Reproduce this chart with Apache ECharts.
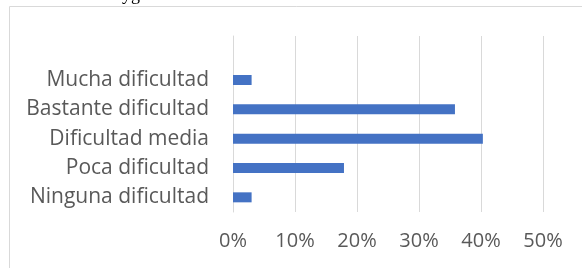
<!DOCTYPE html>
<html>
<head>
<meta charset="utf-8">
<script src="https://cdn.jsdelivr.net/npm/echarts@6/dist/echarts.min.js"></script>
<style>
  html, body { margin: 0; padding: 0; background: #fff; }
  #chart { width: 582px; height: 268px; }
</style>
</head>
<body>
<div id="chart"></div>
<script>
// categories from bottom to top, the last one is Excel's empty slot at the top
var categories = ['Ninguna dificultad', 'Poca dificultad', 'Dificultad media', 'Bastante dificultad', 'Mucha dificultad', ''];
var percentages = [3.0, 17.9, 40.3, 35.8, 3.0, null];
var xTicks = [0, 10, 20, 30, 40, 50];

var font = 'Open Sans';
var chart = echarts.init(document.getElementById('chart'));

var option = {
  animation: false,
  grid: { left: 233, right: 39, top: 36, bottom: 56, containLabel: false },
  xAxis: {
    type: 'value',
    min: xTicks[0],
    max: xTicks[xTicks.length - 1],
    interval: 10,
    axisLine: { show: false },
    axisTick: { show: false },
    splitLine: { lineStyle: { color: '#d9d9d9', width: 1 } },
    axisLabel: {
      formatter: '{value}%',
      color: '#595959',
      fontFamily: font,
      fontSize: 20,
      margin: 19
    }
  },
  yAxis: {
    type: 'category',
    data: categories,
    axisLine: { show: true, lineStyle: { color: '#d9d9d9', width: 1 } },
    axisTick: { show: false },
    axisLabel: {
      color: '#595959',
      fontFamily: font,
      fontSize: 21,
      margin: 24
    }
  },
  series: [{
    type: 'bar',
    data: percentages,
    barWidth: 10,
    itemStyle: { color: '#4472c4' }
  }],
  graphic: [
    {
      type: 'rect',
      shape: { x: 9.5, y: 6.5, width: 620, height: 320 },
      style: { fill: 'none', stroke: '#d9d9d9', lineWidth: 1 },
      silent: true
    },
    {
      type: 'text',
      left: 122,
      top: -14,
      style: { text: 'yg', font: '18px "Liberation Serif"', fill: '#000' },
      silent: true
    }
  ]
};

chart.setOption(option);
</script>
</body>
</html>
